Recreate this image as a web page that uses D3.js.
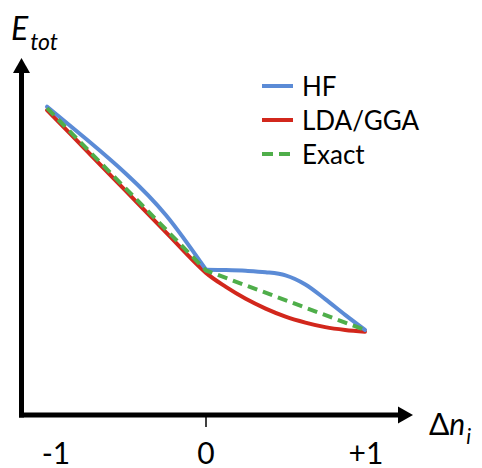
<!DOCTYPE html>
<html>
<head>
<meta charset="utf-8">
<script src="https://cdn.jsdelivr.net/npm/d3@7"></script>
<style>
  body { margin: 0; background: #fff; }
  text { font-family: Lato, "Open Sans", sans-serif; fill: #000; }
</style>
</head>
<body>
<div id="chart"></div>
<script>
/* Data: occupation change and total energy (arbitrary units) */
var dn = [-1, -0.75, -0.5, -0.25, 0, 0.125, 0.25, 0.375, 0.5, 0.625, 0.75, 0.875, 1];
var hf = [88.1, 78.7, 68.8, 57.0, 41.5, 41.4, 41.2, 40.8, 39.9, 37.3, 33.1, 28.6, 24.3];
var lda = [87.1, 75.5, 63.8, 52.1, 40.6, 36.6, 33.2, 30.4, 28.1, 26.4, 25.1, 24.3, 23.8];
var exactX = [-1, 0, 1];
var exact = [87.7, 41.3, 24.3];
var tickVals = [-1, 0, 1];
var tickLabels = ["-1", "0", "+1"];
var seriesNames = ["HF", "LDA/GGA", "Exact"];

var width = 482, height = 468;

var svg = d3.select("#chart").append("svg")
    .attr("width", width).attr("height", height);

var x = d3.scaleLinear().domain([-1, 1]).range([47, 365]);
var y = d3.scaleLinear().domain([0, 100]).range([415, 65]);

var colors = {HF: "#5b8bd6", "LDA/GGA": "#d2271c", Exact: "#4fae4a"};

/* Axes with arrow heads */
var ox = 21.5, oy = 415;
svg.append("line")
    .attr("x1", ox).attr("y1", oy + 2.5).attr("x2", ox).attr("y2", 72)
    .attr("stroke", "#000").attr("stroke-width", 5);
svg.append("path")
    .attr("d", "M" + (ox - 8.5) + ",73L" + ox + ",58L" + (ox + 8.5) + ",73Z")
    .attr("fill", "#000");
svg.append("line")
    .attr("x1", ox - 2.5).attr("y1", oy).attr("x2", 399).attr("y2", oy)
    .attr("stroke", "#000").attr("stroke-width", 5);
svg.append("path")
    .attr("d", "M398," + (oy - 8.5) + "L413," + oy + "L398," + (oy + 8.5) + "Z")
    .attr("fill", "#000");

/* tick at 0 only */
svg.append("line")
    .attr("x1", x(0)).attr("x2", x(0)).attr("y1", oy + 2).attr("y2", oy + 12)
    .attr("stroke", "#000").attr("stroke-width", 1.5);

svg.selectAll(".tick-label")
  .data(tickVals)
  .enter().append("text")
    .attr("class", "tick-label")
    .attr("x", function(d) { return x(d) + (d < 0 ? 9 : d > 0 ? 1 : 0); })
    .attr("y", 464)
    .attr("text-anchor", "middle")
    .attr("font-size", 30)
    .text(function(d, i) { return tickLabels[i]; });

/* axis titles */
var yt = svg.append("text").attr("x", 11).attr("y", 40).attr("font-size", 32).attr("font-style", "italic");
yt.append("tspan").text("E");
yt.append("tspan").attr("font-size", 23).attr("dx", 2).attr("dy", 10).text("tot");

var xt = svg.append("text").attr("x", 429).attr("y", 435).attr("font-size", 30);
xt.append("tspan").text("\u0394");
xt.append("tspan").attr("font-style", "italic").text("n");
xt.append("tspan").attr("font-style", "italic").attr("font-size", 21).attr("dy", 9).attr("dx", 1).text("i");

/* curves */
var line = d3.line()
    .x(function(d) { return x(d[0]); })
    .y(function(d) { return y(d[1]); })
    .curve(d3.curveCatmullRom.alpha(0.5));

function points(vals) {
  return dn.map(function(d, i) { return [d, vals[i]]; });
}

// LDA/GGA: one smooth curve
svg.append("path")
    .datum(points(lda))
    .attr("fill", "none").attr("stroke", colors["LDA/GGA"]).attr("stroke-width", 4)
    .attr("stroke-linecap", "round")
    .attr("d", line);

// HF: two smooth pieces that meet in a kink at 0
var hfPts = points(hf);
svg.append("g").selectAll("path")
  .data([hfPts.filter(function(p) { return p[0] <= 0; }),
         hfPts.filter(function(p) { return p[0] >= 0; })])
  .enter().append("path")
    .attr("fill", "none").attr("stroke", colors.HF).attr("stroke-width", 4)
    .attr("stroke-linecap", "round")
    .attr("d", function(d, i) { return (i === 0 ? line.curve(d3.curveNatural) : line.curve(d3.curveCatmullRom.alpha(0.5)))(d); });

svg.append("path")
    .datum(exactX.map(function(d, i) { return [d, exact[i]]; }))
    .attr("fill", "none").attr("stroke", colors.Exact).attr("stroke-width", 4)
    .attr("stroke-dasharray", "10,6")
    .attr("d", d3.line().x(function(d) { return x(d[0]); }).y(function(d) { return y(d[1]); }));

/* Legend */
var lg = svg.append("g").attr("transform", "translate(262,86)");
var items = lg.selectAll("g")
  .data(seriesNames)
  .enter().append("g")
    .attr("transform", function(d, i) { return "translate(0," + (i * 34) + ")"; });
items.append("line")
    .attr("x1", 0).attr("x2", 31).attr("y1", 0).attr("y2", 0)
    .attr("stroke", function(d) { return colors[d]; })
    .attr("stroke-width", 4)
    .attr("stroke-dasharray", function(d) { return d === "Exact" ? "11,6" : null; });
items.append("text")
    .attr("x", 40).attr("y", 10)
    .attr("font-size", 26)
    .text(function(d) { return d; });
</script>
</body>
</html>
